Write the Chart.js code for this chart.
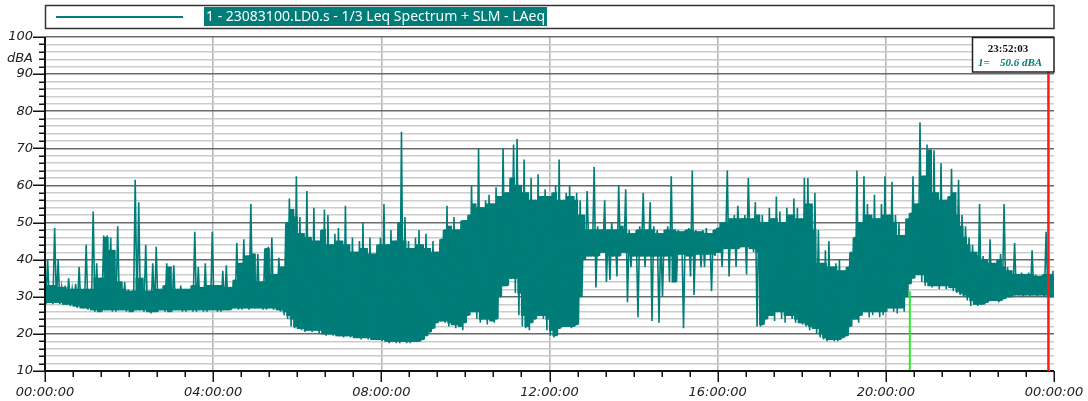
<!DOCTYPE html>
<html>
<head>
<meta charset="utf-8">
<script src="https://cdn.jsdelivr.net/npm/chart.js@4.4.1/dist/chart.umd.min.js"></script>
<style>html,body{margin:0;padding:0;background:#fff}</style>
</head>
<body>
<canvas id="myChart" width="1088" height="401"></canvas>
<script>
var ctx = document.getElementById('myChart').getContext('2d');

// LAeq levels per 5 minute block (one row = one hour), lower and upper envelope in dBA
var lo = [
  28, 28.5, 28, 28.5, 28, 28, 28, 27.5, 27.5, 27, 27, 27,
  26.5, 26.5, 26, 26, 26, 26.5, 26.5, 26, 26, 26.5, 26.5, 26,
  26, 26, 26.5, 26.5, 26, 26, 25.5, 26, 26, 26.5, 26, 26,
  26, 26.5, 26.5, 26, 26, 26.5, 26, 26, 26.5, 26, 26, 26.5,
  26.5, 26, 26, 26.5, 26.5, 26.5, 27, 26.5, 26.5, 27, 26.5, 27,
  27, 27, 26.5, 26.5, 27, 26.5, 26.5, 26, 25, 24, 22, 21.5,
  21.5, 21, 20.5, 21, 20.5, 21, 20, 20, 19.5, 20, 19.5, 19.5,
  19.5, 19, 19.5, 19, 19, 19, 18.5, 19, 18.5, 18.5, 18.5, 18.5,
  18, 18, 17.5, 18, 17.5, 17.5, 18, 17.5, 17.5, 18, 18, 18,
  18.5, 19.5, 20.5, 21.5, 23, 23.5, 23, 22, 22.5, 21.5, 22, 21,
  23, 25, 26, 24, 23, 24, 22.5, 23.5, 23, 24, 30, 33,
  33, 35, 31, 25, 22, 21.5, 21, 23, 24, 25, 24, 21,
  19.5, 19, 19.5, 21.5, 22, 22, 21.5, 22, 22.5, 30, 40, 41,
  41, 32.5, 41, 42, 34, 34.5, 41, 35.5, 41, 42, 28.5, 38,
  41, 24.5, 41, 38, 41, 23.5, 41, 23, 30, 41, 34, 34,
  34, 41.5, 21.5, 41, 35.5, 30.5, 41.5, 38, 38, 41.5, 31.5, 41,
  42, 38, 43, 35.5, 43, 38, 43, 43.5, 36, 43, 42, 22,
  22, 22.5, 24, 25, 23.5, 26, 24, 23, 25, 24, 23, 23,
  22.5, 22, 21, 21.5, 20, 19, 18.5, 18, 18.5, 18, 18, 18.5,
  19, 19.5, 22, 24, 23, 25, 26, 24.5, 25, 26, 24.5, 25,
  26, 27, 26, 25.5, 27, 26, 30, 33.5, 35, 36, 34, 33,
  33, 32.5, 33, 32, 33, 32, 32.5, 31.5, 31, 30.5, 30, 29,
  27.5, 28, 27.5, 28, 28, 28.5, 29, 29, 28.5, 29, 29.5, 30,
  30, 30.5, 30.5, 30, 30.5, 30, 30.5, 30, 30.5, 30, 30, 30
];
var hi = [
  40, 33, 48.5, 40, 32.5, 33, 35, 32, 33.5, 38, 32, 44,
  32, 53, 39, 35, 46.5, 46.5, 46, 42.5, 49, 34, 34, 32,
  31.5, 61.5, 55.5, 35, 44, 31.5, 39, 43.5, 32, 33, 39, 38,
  38.5, 32, 33, 32, 32, 33, 47.5, 38, 32.5, 39, 33, 47.5,
  33, 33, 37, 38.5, 32.5, 34.5, 44.5, 39, 45.5, 41, 55, 41.5,
  41.5, 34, 43, 43.5, 46, 36, 40.5, 38, 50, 56.5, 53.5, 62.5,
  51.5, 47, 58.5, 46, 54, 45, 48, 53.5, 52, 44, 47, 48.5,
  45, 54.5, 44, 46, 42, 45, 50, 43, 46, 41.5, 44, 46,
  55, 44, 48, 45, 50, 74.5, 51.5, 45, 43, 46, 48, 44,
  47, 43, 45, 42, 45.5, 48, 54.5, 49, 51.5, 48, 50.5, 50.5,
  52, 60, 55, 70, 54, 56, 57.5, 55, 59.5, 57, 70, 58,
  62, 71, 72.5, 60, 67, 58, 62, 56, 63, 57, 59, 57,
  58, 60, 67, 56, 58, 60, 57, 58, 56, 52, 58.5, 48,
  65, 49, 48, 56, 48, 50, 48, 60, 49, 59, 48, 47,
  48, 49, 58, 48, 55.5, 49, 48, 47, 48, 49, 62.5, 48,
  48, 47.5, 48, 48.5, 64, 48, 47.5, 48, 48.5, 47, 48, 48.5,
  50, 50, 64, 51, 52, 54.5, 51, 52, 62, 51, 55.5, 52,
  52, 50, 54, 51, 57, 53, 50, 54, 52, 56.5, 54, 51,
  62, 62, 55, 58, 48, 39, 42.5, 45, 38, 39, 40, 37,
  38, 42, 46, 64, 50, 62.5, 55, 52, 57.5, 51, 55, 62.5,
  52, 61, 52, 50, 46.5, 51, 52.5, 62.5, 55, 77, 62.5, 71,
  69.5, 69.5, 58, 66, 56, 57, 64.5, 58, 61.5, 52, 49, 46,
  44, 42, 55, 41, 40, 45.5, 39, 40, 41.5, 55, 38, 37,
  44.5, 36, 36.5, 36, 36.5, 42.5, 36, 35.5, 36, 47.5, 36, 37
];
var xTicks = [0, 4, 8, 12, 16, 20, 24];
var xTickLabels = ['00:00:00', '04:00:00', '08:00:00', '12:00:00', '16:00:00', '20:00:00', '00:00:00'];
var yTickLabels = [10, 20, 30, 40, 50, 60, 70, 80, 90, 100];
var seriesLabel = '1 - 23083100.LD0.s - 1/3 Leq Spectrum + SLM - LAeq';
var cursorTime = 23 + 52 / 60 + 3 / 3600;
var cursorText = '23:52:03';
var cursorValue = '50.6 dBA';
var markerTime = 20.57;
var markerLevel = 31.5;

var teal = '#007d78';

// zigzag between lower and upper level inside each 5 min block,
// plus a solid band for the dense part (spikes and dips left to the zigzag)
var points = [], band = [];
for (let i = 0; i < lo.length; i++) {
  let t = i / 12;
  points.push({x: t + 1 / 48, y: lo[i]});
  points.push({x: t + 3 / 48, y: hi[i]});
  let p = Math.max(i - 1, 0), n = Math.min(i + 1, lo.length - 1);
  let bottom = Math.max(lo[p], lo[i], lo[n]);
  let upper = Math.max(Math.min(hi[p], hi[i], hi[n]), bottom);
  band.push({x: t + 1 / 24, y: [bottom, upper]});
}

function line(c, x1, y1, x2, y2) {
  c.beginPath(); c.moveTo(x1, y1); c.lineTo(x2, y2); c.stroke();
}

var overlay = {
  id: 'overlay',
  beforeDraw: function (chart) {
    var c = chart.ctx;
    c.save(); c.fillStyle = '#fff'; c.fillRect(0, 0, chart.width, chart.height); c.restore();
  },
  beforeDatasetsDraw: function (chart) {
    var c = chart.ctx, xs = chart.scales.x, ys = chart.scales.y;
    c.save();
    c.strokeStyle = '#2ee82e'; c.lineWidth = 2;
    var gx = xs.getPixelForValue(markerTime);
    line(c, gx, ys.getPixelForValue(10), gx, ys.getPixelForValue(markerLevel));
    c.restore();
  },
  afterDraw: function (chart) {
    var c = chart.ctx, xs = chart.scales.x, ys = chart.scales.y, a = chart.chartArea;
    c.save();
    // tick marks
    c.strokeStyle = '#111'; c.lineWidth = 1.5;
    for (let m = 0; m <= 24 * 60; m += 40) {
      let px = Math.round(xs.getPixelForValue(m / 60)) + 0.25;
      line(c, px, a.bottom, px, a.bottom + (m % 240 === 0 ? 11 : 6));
    }
    for (let v = 10; v <= 100; v += 2) {
      let py = Math.round(ys.getPixelForValue(v)) + 0.25;
      line(c, a.left - (v % 10 === 0 ? 12 : 6), py, a.left, py);
    }
    // axis lines
    c.lineWidth = 2;
    line(c, a.left, a.top, a.left, a.bottom + 1);
    line(c, a.left, a.bottom, a.right, a.bottom);
    // unit
    c.fillStyle = '#222'; c.font = 'italic 13px "DejaVu Sans"';
    c.textAlign = 'right'; c.textBaseline = 'middle';
    c.fillText('dBA', 33, 59);
    // legend
    c.strokeStyle = '#333'; c.lineWidth = 1.5;
    c.strokeRect(45.5, 5.5, 1008.5, 23);
    c.strokeStyle = teal; c.lineWidth = 2;
    line(c, 56, 17, 183, 17);
    c.fillStyle = teal; c.fillRect(204, 7, 343, 19);
    c.font = '15px "Noto Sans"';
    var w = c.measureText(seriesLabel).width;
    c.translate(206, 17); c.scale(339 / w, 1);
    c.fillStyle = '#fff'; c.textAlign = 'left';
    c.fillText(seriesLabel, 0, 0);
    c.setTransform(1, 0, 0, 1, 0, 0);
    // cursor
    var rx = xs.getPixelForValue(cursorTime);
    c.strokeStyle = '#ff1a1a'; c.lineWidth = 2.5;
    line(c, rx, a.top, rx, a.bottom);
    c.fillStyle = '#fff'; c.fillRect(972, 37, 82, 35);
    c.strokeStyle = '#222'; c.lineWidth = 1.5;
    c.strokeRect(972.5, 37.5, 81.5, 34.5);
    c.fillStyle = '#111'; c.font = 'bold 11px "Liberation Serif"'; c.textAlign = 'center';
    c.fillText(cursorText, 1008, 49);
    c.fillStyle = teal; c.font = 'bold italic 11px "Liberation Serif"'; c.textAlign = 'left';
    c.fillText('1=', 978, 63);
    c.fillText(cursorValue, 1000, 63);
    c.restore();
  }
};

var myChart = new Chart(ctx, {
  type: 'line',
  data: {
    datasets: [{
      label: seriesLabel,
      data: points,
      parsing: false,
      borderColor: teal,
      borderWidth: 1.6,
      pointRadius: 0,
      tension: 0,
      fill: false
    }, {
      type: 'bar',
      label: 'band',
      data: band,
      backgroundColor: teal,
      borderWidth: 0,
      barPercentage: 1,
      categoryPercentage: 1,
      grouped: false,
      inflateAmount: 0.6
    }]
  },
  options: {
    responsive: false,
    animation: false,
    devicePixelRatio: 1,
    events: [],
    layout: { padding: { left: 0, top: 37, right: 34, bottom: 0 } },
    plugins: { legend: { display: false }, tooltip: { enabled: false } },
    scales: {
      x: {
        type: 'linear', min: 0, max: 24, offset: false,
        afterFit: function (s) { s.height = 30; s.paddingLeft = 0; s.paddingRight = 0; },
        afterBuildTicks: function (s) { s.ticks = xTicks.map(function (v) { return {value: v}; }); },
        ticks: {
          autoSkip: false, maxRotation: 0, padding: 14, color: '#222',
          font: { family: 'DejaVu Sans', style: 'italic', size: 13 },
          callback: function (v) { return xTickLabels[xTicks.indexOf(v)]; }
        },
        grid: {
          drawTicks: false, lineWidth: 1.6, offset: false,
          color: function (c) { return (c.tick && (c.tick.value === 0 || c.tick.value === 24)) ? 'rgba(0,0,0,0)' : '#b8b8b8'; }
        },
        border: { display: false }
      },
      y: {
        min: 10, max: 100,
        afterFit: function (s) { s.width = 45; s.paddingTop = 0; s.paddingBottom = 0; },
        ticks: {
          stepSize: 2, autoSkip: false, padding: 12, color: '#222',
          font: { family: 'DejaVu Sans', style: 'italic', size: 13 },
          callback: function (v) { var r = Math.round(v); return yTickLabels.indexOf(r) >= 0 ? String(r) : ''; }
        },
        grid: {
          drawTicks: false,
          lineWidth: function (c) { return Math.round(c.tick.value) % 10 === 0 ? 1.6 : 1.4; },
          color: function (c) { return Math.round(c.tick.value) % 10 === 0 ? '#6a6a6a' : '#cccccc'; }
        },
        border: { display: false }
      }
    }
  },
  plugins: [overlay]
});
</script>
</body>
</html>
